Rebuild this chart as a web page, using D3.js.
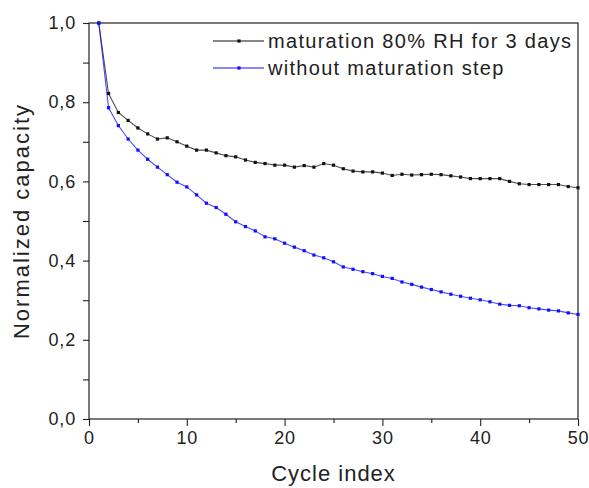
<!DOCTYPE html>
<html><head><meta charset="utf-8">
<script src="https://cdn.jsdelivr.net/npm/d3@7"></script>
<style>body{margin:0;background:#fff}svg{display:block}text{font-family:"Liberation Sans",Arial,sans-serif;fill:#222}</style>
</head><body><svg id="c" width="589" height="488"></svg>
<script>
const cycles = d3.range(1, 51);
const matured = [1.0,0.822,0.774,0.754,0.735,0.720,0.707,0.710,0.700,0.689,0.679,0.679,0.672,0.665,0.662,0.654,0.648,0.645,0.641,0.641,0.636,0.640,0.636,0.645,0.641,0.632,0.626,0.624,0.624,0.621,0.615,0.618,0.616,0.617,0.618,0.617,0.614,0.611,0.607,0.607,0.607,0.607,0.600,0.594,0.592,0.592,0.592,0.592,0.587,0.584];
const noMaturation = [1.0,0.786,0.741,0.707,0.679,0.656,0.636,0.617,0.598,0.586,0.566,0.545,0.534,0.517,0.498,0.486,0.475,0.460,0.455,0.444,0.434,0.425,0.414,0.407,0.397,0.384,0.378,0.372,0.367,0.360,0.355,0.346,0.340,0.333,0.327,0.321,0.315,0.310,0.305,0.301,0.296,0.290,0.287,0.286,0.281,0.278,0.275,0.273,0.268,0.264];
const seriesNames = ["maturation 80% RH for 3 days","without maturation step"];
const xTicks = [0,10,20,30,40,50];
const yTicks = [0,0.2,0.4,0.6,0.8,1.0];

const svg = d3.select("#c");
const L=89, R=578, T=23, B=419;
const x = d3.scaleLinear().domain([0,50]).range([L,R]);
const y = d3.scaleLinear().domain([0,1]).range([B,T]);
const fmt = d => d3.format(".1f")(d).replace(".", ",");

// frame
svg.append("rect").attr("x",L).attr("y",T).attr("width",R-L).attr("height",B-T)
  .attr("fill","none").attr("stroke","#222").attr("stroke-width",1.2);

// x axis
svg.append("g").attr("transform",`translate(0,${B})`)
  .call(d3.axisBottom(x).tickValues(xTicks).tickSize(7).tickPadding(5).tickFormat(d3.format("d")));
svg.append("g").attr("transform",`translate(0,${B})`)
  .call(d3.axisBottom(x).tickValues([5,15,25,35,45]).tickSize(4).tickFormat(""));
// y axis
svg.append("g").attr("transform",`translate(${L},0)`)
  .call(d3.axisLeft(y).tickValues(yTicks).tickSize(6).tickPadding(7).tickFormat(fmt));
svg.append("g").attr("transform",`translate(${L},0)`)
  .call(d3.axisLeft(y).tickValues([0.1,0.3,0.5,0.7,0.9]).tickSize(6).tickFormat(""));
svg.selectAll(".domain").remove();
svg.selectAll(".tick line").attr("stroke","#222").attr("stroke-width",1.1);
svg.selectAll(".tick text").style("font-size","18px").style("letter-spacing","0.8px").attr("fill","#222");

svg.append("text").attr("x",(L+R)/2).attr("y",481).attr("text-anchor","middle")
  .style("font-size","22px").style("letter-spacing","1px").text("Cycle index");
svg.append("text").attr("transform",`translate(29,${(T+B)/2}) rotate(-90)`).attr("text-anchor","middle")
  .style("font-size","22px").style("letter-spacing","2px").text("Normalized capacity");

const colors = ["#111111","#1010ff"];
const datas = [matured, noMaturation];
const line = d3.line().x((d,i)=>x(cycles[i])).y(d=>y(d));
datas.forEach((data,k)=>{
  const g = svg.append("g");
  g.append("path").datum(data).attr("d",line).attr("fill","none")
    .attr("stroke",colors[k]).attr("stroke-width",1.1).attr("stroke-opacity",0.75);
  g.selectAll("rect").data(data).join("rect")
    .attr("x",(d,i)=>x(cycles[i])-1.6).attr("y",d=>y(d)-1.6)
    .attr("width",3.2).attr("height",3.2).attr("fill",colors[k]);
});

// legend
const leg = svg.append("g");
seriesNames.forEach((name,k)=>{
  const yy = 41 + k*27;
  leg.append("line").attr("x1",213).attr("x2",264).attr("y1",yy).attr("y2",yy)
    .attr("stroke",colors[k]).attr("stroke-width",1.1);
  leg.append("rect").attr("x",239-1.6).attr("y",yy-1.6).attr("width",3.2).attr("height",3.2).attr("fill",colors[k]);
  leg.append("text").attr("x",268).attr("y",yy+7).style("font-size","20px").style("letter-spacing","1.3px").text(name);
});
</script></body></html>
